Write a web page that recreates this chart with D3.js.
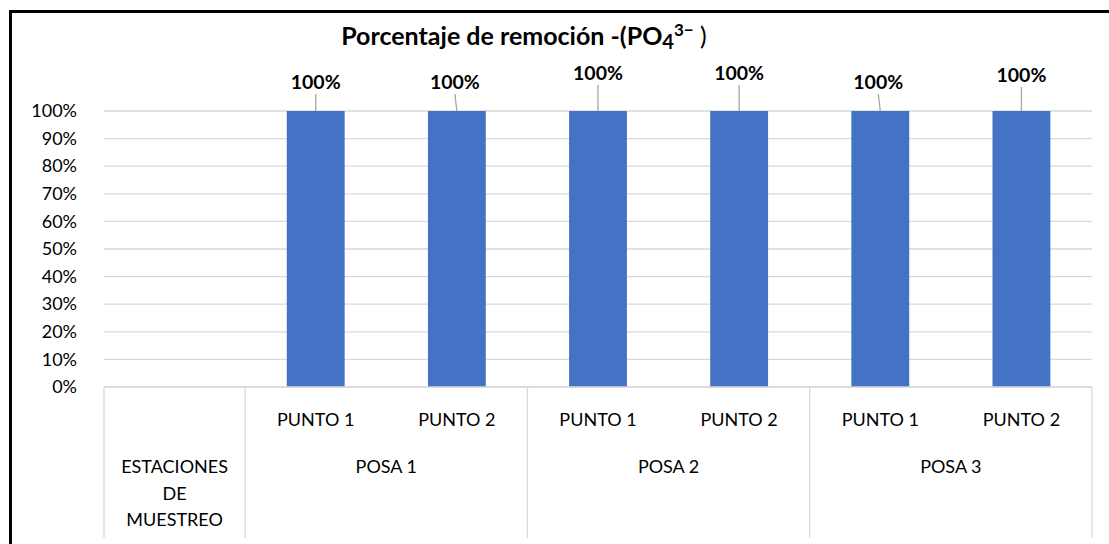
<!DOCTYPE html>
<html>
<head>
<meta charset="utf-8">
<script src="https://cdn.jsdelivr.net/npm/d3@7"></script>
<style>
  body { margin: 0; background: #fff; }
  svg { display: block; }
</style>
</head>
<body>
<svg id="chart"></svg>
<script>
// data
const groups = ["ESTACIONES DE MUESTREO", "POSA 1", "POSA 2", "POSA 3"];
const points = ["", "PUNTO 1", "PUNTO 2", "PUNTO 1", "PUNTO 2", "PUNTO 1", "PUNTO 2"];
const pointGroup = [0, 1, 1, 2, 2, 3, 3];
const removal = [null, 1, 1, 1, 1, 1, 1];
const yTicks = [0, 0.1, 0.2, 0.3, 0.4, 0.5, 0.6, 0.7, 0.8, 0.9, 1];

// label placement tweaks (px), like the hand-moved labels in the original
const labelLift = [0, 0, 0, 9, 9, 0, 7];
const labelShift = [0, 0, -2, 0, 0, -2, 0];

const width = 1109, height = 544;
const margin = { top: 111, right: 17, bottom: 157, left: 104 };
const font = "Lato, 'Open Sans', sans-serif";

const svg = d3.select("#chart")
    .attr("width", width)
    .attr("height", height);

const x = d3.scaleBand()
    .domain(d3.range(points.length))
    .range([margin.left, width - margin.right])
    .paddingInner(0.59)
    .paddingOuter(0.295);

const step = x.step();
const y = d3.scaleLinear()
    .domain([0, 1])
    .range([height - margin.bottom, margin.top]);

// gridlines
svg.append("g")
    .selectAll("line")
    .data(yTicks)
    .join("line")
    .attr("x1", margin.left)
    .attr("x2", width - margin.right)
    .attr("y1", d => y(d))
    .attr("y2", d => y(d))
    .attr("stroke", "#d9d9d9")
    .attr("stroke-width", 1.3);

// y axis labels
const yAxis = svg.append("g")
    .attr("transform", `translate(${margin.left - 24},0)`)
    .call(d3.axisLeft(y).tickValues(yTicks).tickFormat(d3.format(".0%")).tickSize(0));
yAxis.select(".domain").remove();
yAxis.selectAll("text")
    .attr("font-family", font)
    .attr("font-size", 18)
    .attr("fill", "#000")
    .attr("dx", 0);

// bars
svg.append("g")
    .selectAll("rect")
    .data(removal.map((v, i) => ({ v, i })).filter(d => d.v !== null))
    .join("rect")
    .attr("x", d => x(d.i))
    .attr("width", x.bandwidth())
    .attr("y", d => y(d.v))
    .attr("height", d => y(0) - y(d.v))
    .attr("fill", "#4472c4");

// data labels + leader lines
const lab = svg.append("g")
    .selectAll("g")
    .data(removal.map((v, i) => ({ v, i })).filter(d => d.v !== null))
    .join("g");
lab.append("line")
    .attr("x1", d => x(d.i) + x.bandwidth() / 2)
    .attr("y1", d => y(d.v))
    .attr("x2", d => x(d.i) + x.bandwidth() / 2 + labelShift[d.i])
    .attr("y2", d => y(d.v) - 17 - labelLift[d.i])
    .attr("stroke", "#a6a6a6")
    .attr("stroke-width", 1.3);
lab.append("text")
    .attr("x", d => x(d.i) + x.bandwidth() / 2 + labelShift[d.i])
    .attr("y", d => y(d.v) - 22 - labelLift[d.i])
    .attr("text-anchor", "middle")
    .attr("font-family", font)
    .attr("font-weight", "bold")
    .attr("font-size", 19.5)
    .text(d => d3.format(".0%")(d.v));

// category axis (two levels)
const axisTop = y(0);
const axisBottom = height - 6;
const sep = svg.append("g").attr("stroke", "#d9d9d9").attr("stroke-width", 1.3);
sep.append("line")
    .attr("x1", margin.left).attr("x2", width - margin.right)
    .attr("y1", axisTop).attr("y2", axisTop);

const groupSpans = groups.map((g, gi) => {
    const idx = pointGroup.map((p, i) => p === gi ? i : -1).filter(i => i >= 0);
    const x0 = x(idx[0]) - step * x.paddingInner() / 2;
    const x1 = x(idx[idx.length - 1]) + x.bandwidth() + step * x.paddingInner() / 2;
    return { name: g, x0, x1 };
});

const edges = [groupSpans[0].x0].concat(groupSpans.map(d => d.x1));
sep.selectAll("line.edge")
    .data(edges)
    .join("line")
    .attr("class", "edge")
    .attr("x1", d => d).attr("x2", d => d)
    .attr("y1", axisTop).attr("y2", axisBottom);

svg.append("g")
    .selectAll("text")
    .data(points.map((p, i) => ({ p, i })).filter(d => d.p))
    .join("text")
    .attr("x", d => x(d.i) + x.bandwidth() / 2)
    .attr("y", 426)
    .attr("text-anchor", "middle")
    .attr("font-family", font)
    .attr("font-size", 18)
    .text(d => d.p);

groupSpans.forEach((g, gi) => {
    const words = gi === 0 ? ["ESTACIONES", "DE", "MUESTREO"] : [g.name];
    const t = svg.append("text")
        .attr("text-anchor", "middle")
        .attr("font-family", font)
        .attr("font-size", 18);
    words.forEach((w, k) => {
        t.append("tspan")
            .attr("x", (g.x0 + g.x1) / 2)
            .attr("y", 473 + k * 26.5)
            .text(w);
    });
});

// title
const title = svg.append("text")
    .attr("x", 524)
    .attr("y", 45)
    .attr("text-anchor", "middle")
    .attr("font-family", font)
    .attr("font-weight", "bold")
    .attr("font-size", 25);
title.append("tspan").text("Porcentaje de remoción -(PO");
title.append("tspan").attr("dy", 4).attr("font-size", 20).text("4");
title.append("tspan").attr("dy", -13).attr("font-size", 17).text("3−");
title.append("tspan").attr("dy", 9).attr("font-weight", "normal").text(" )");

// outer frame (top + left edges only visible)
svg.append("line")
    .attr("x1", 9.5).attr("x2", width).attr("y1", 11.5).attr("y2", 11.5)
    .attr("stroke", "#000").attr("stroke-width", 3);
svg.append("line")
    .attr("x1", 10.5).attr("x2", 10.5).attr("y1", 10).attr("y2", height)
    .attr("stroke", "#000").attr("stroke-width", 3);
</script>
</body>
</html>
